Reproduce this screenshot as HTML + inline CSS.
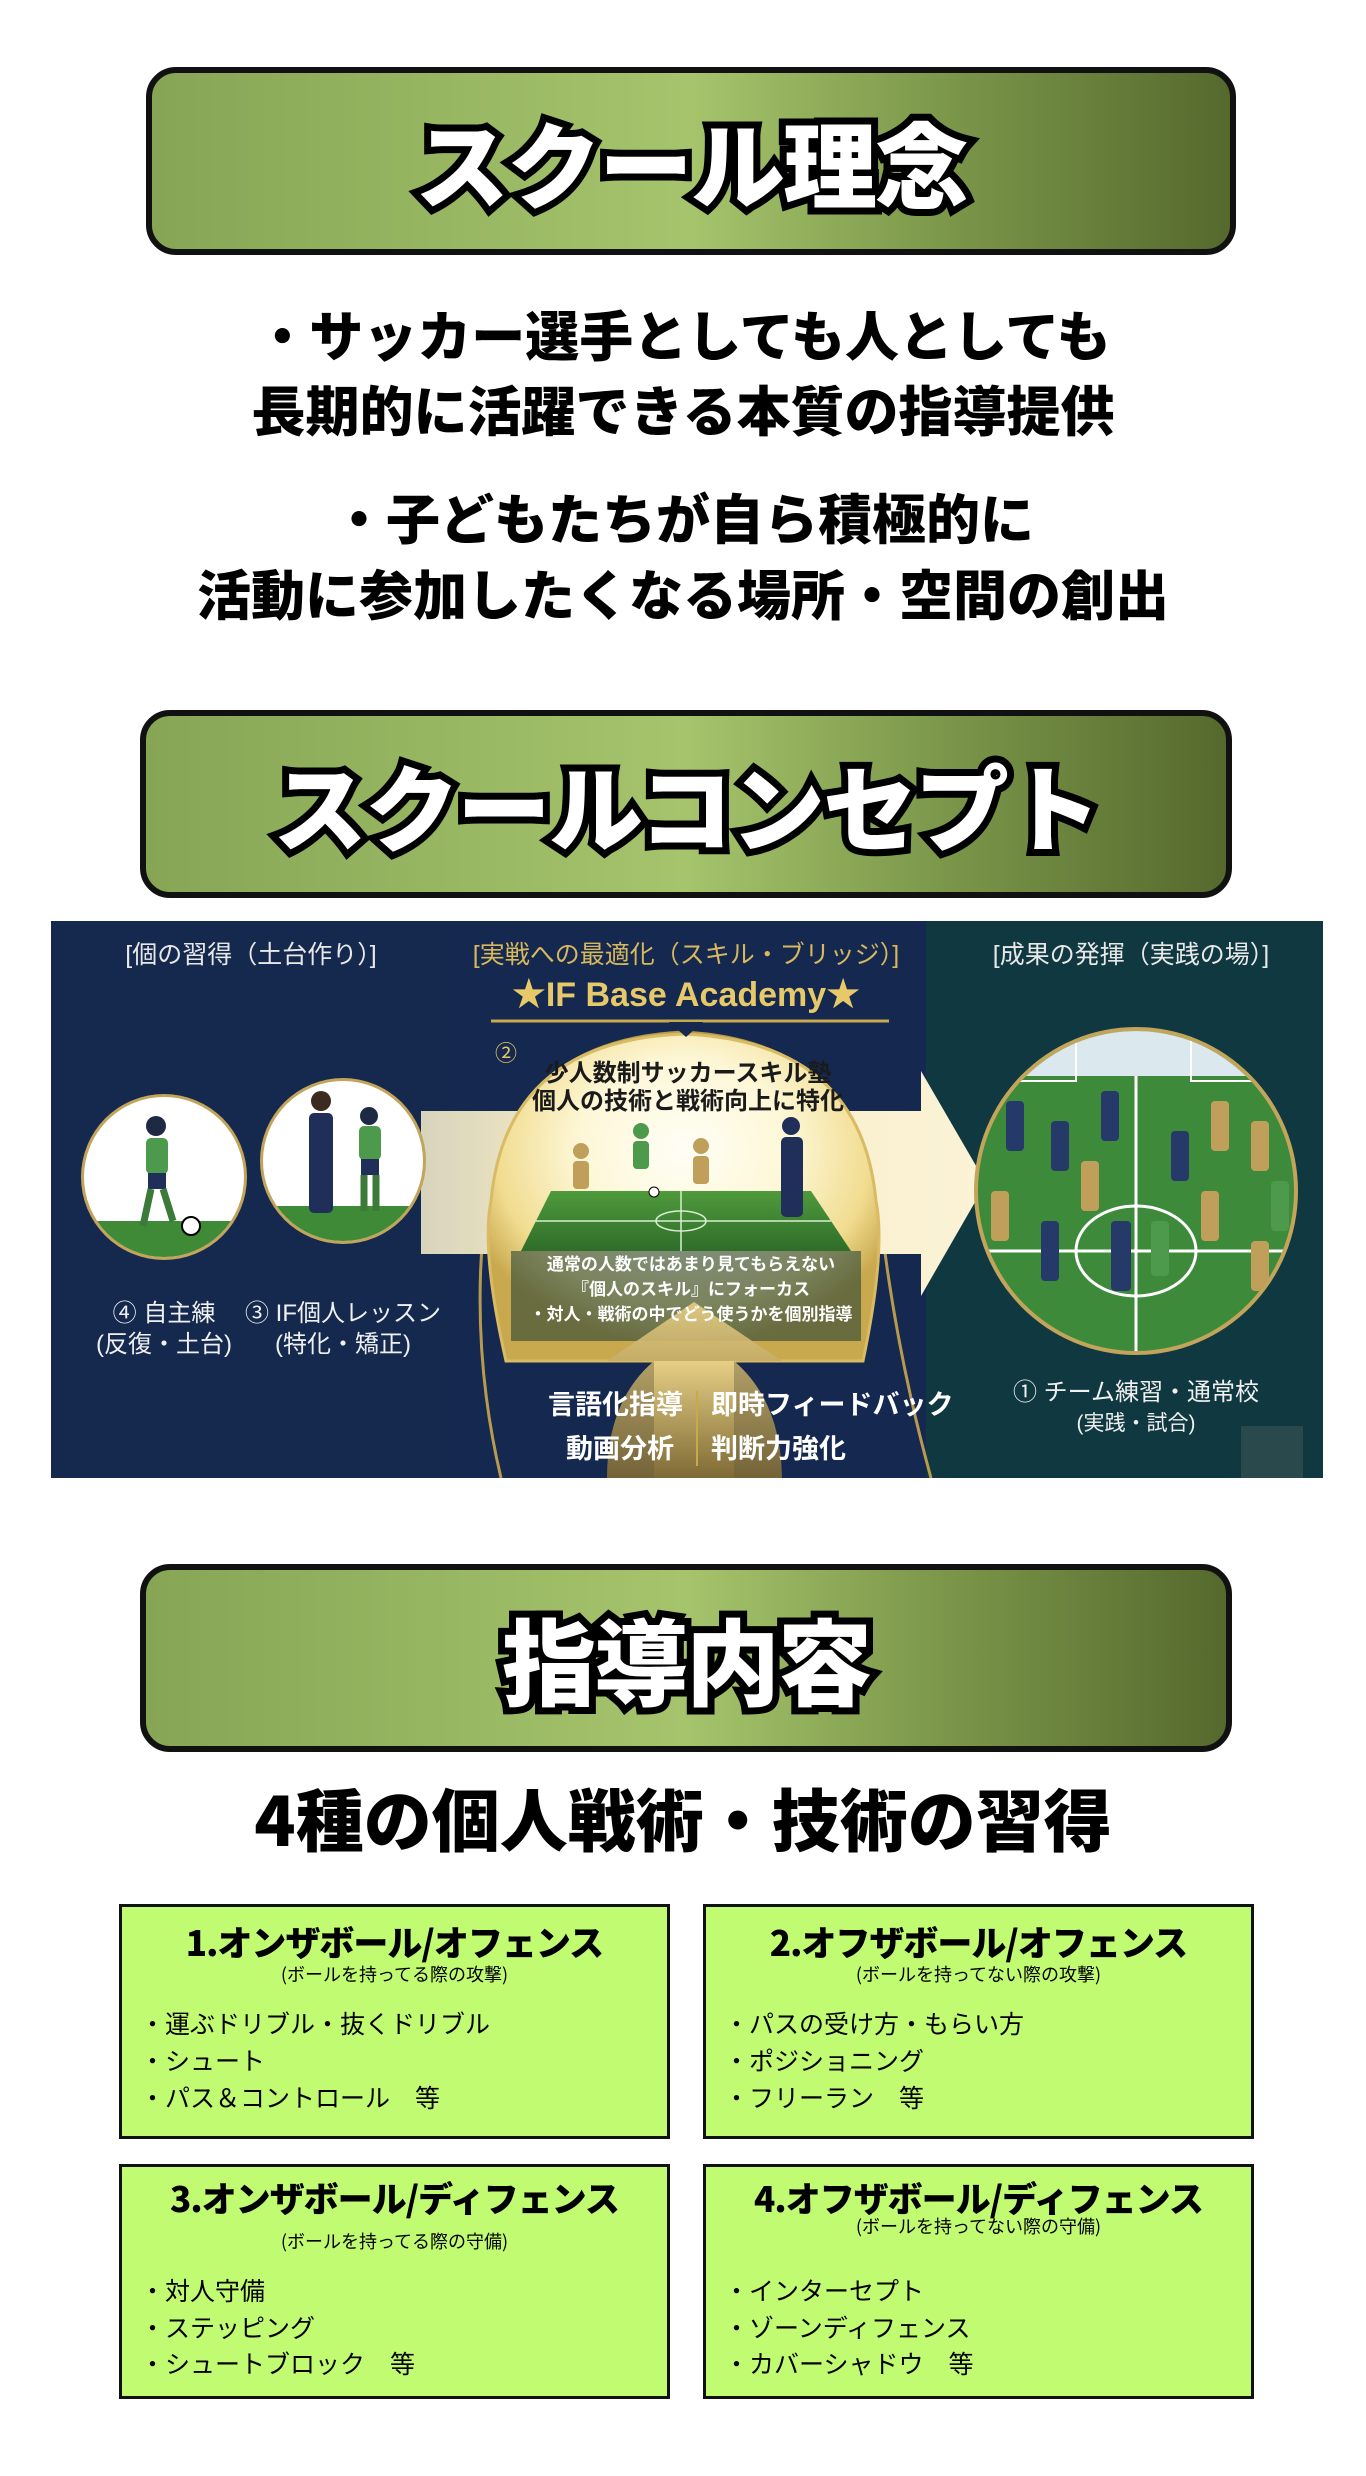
<!DOCTYPE html>
<html><head><meta charset="utf-8">
<style>
*{margin:0;padding:0;box-sizing:border-box}
body{width:1366px;height:2476px;background:#fff;position:relative;overflow:hidden;font-family:"Liberation Sans","Noto Sans CJK JP",sans-serif}
.hdr{position:absolute;left:146px;width:1090px;height:188px;border:6px solid #111;border-radius:30px;background:linear-gradient(90deg,#86a656 0%,#a6c46c 50%,#7e9a4c 72%,#55692d 100%);display:flex;align-items:center;justify-content:center}
.hdr span{font-family:"Noto Sans CJK JP",sans-serif;font-weight:900;font-size:94px;color:#fff;-webkit-text-stroke:14px #000;paint-order:stroke fill;letter-spacing:-2px;text-shadow:4px 5px 0 #000;line-height:1}
.line{position:absolute;left:0;width:1366px;text-align:center;font-family:"Noto Sans CJK JP",sans-serif;font-weight:900;font-size:54px;color:#000;line-height:1;white-space:nowrap}
.box{position:absolute;width:551px;height:235px;border:3px solid #111;background:#c1fb72}
.box .t{position:absolute;left:0;width:100%;text-align:center;font-family:"Noto Sans CJK JP",sans-serif;font-weight:900;font-size:35px;line-height:1;white-space:nowrap;letter-spacing:-1px}
.box .s{position:absolute;left:0;width:100%;text-align:center;font-family:"Noto Sans CJK JP",sans-serif;font-size:18px;line-height:1}
.box .i{position:absolute;left:18px;font-family:"Noto Sans CJK JP",sans-serif;font-size:25px;line-height:1;white-space:nowrap}
</style></head><body>

<div class="hdr" style="top:67px"><span>スクール理念</span></div>
<div class="line" style="top:306px">・サッカー選手としても人としても</div>
<div class="line" style="top:381px">長期的に活躍できる本質の指導提供</div>
<div class="line" style="top:489px">・子どもたちが自ら積極的に</div>
<div class="line" style="top:565px">活動に参加したくなる場所・空間の創出</div>

<div class="hdr" style="top:710px;left:140px;width:1092px"><span>スクールコンセプト</span></div>

<svg style="position:absolute;left:51px;top:921px" width="1272" height="557" viewBox="0 0 1272 557" font-family="Liberation Sans, Noto Sans CJK JP, sans-serif">
<defs>
<radialGradient id="glow" cx="0.5" cy="0.35" r="0.6">
<stop offset="0" stop-color="#fffef6"/><stop offset="0.45" stop-color="#fdf7d6"/><stop offset="0.8" stop-color="#f1dc90"/><stop offset="1" stop-color="#c9a94e"/>
</radialGradient>
<linearGradient id="arr" x1="0" x2="1"><stop offset="0" stop-color="#d8d4bc"/><stop offset="0.3" stop-color="#f7ecc4"/><stop offset="1" stop-color="#fbf3d6"/></linearGradient>
<linearGradient id="up" x1="0" y1="0" x2="0" y2="1"><stop offset="0" stop-color="#e7cf85"/><stop offset="1" stop-color="#7e6a35"/></linearGradient>
<linearGradient id="grass" x1="0" y1="0" x2="0" y2="1"><stop offset="0" stop-color="#4f9a3c"/><stop offset="1" stop-color="#2f6d2a"/></linearGradient>
<clipPath id="c1"><circle cx="113" cy="256" r="80"/></clipPath>
<clipPath id="c2"><circle cx="292" cy="240" r="80"/></clipPath>
<clipPath id="c3"><ellipse cx="1085" cy="270" rx="158" ry="160"/></clipPath>
</defs>
<rect width="1272" height="557" fill="#142850"/>
<rect x="0" width="400" height="557" fill="#15294f"/>
<rect x="875" width="397" height="557" fill="#0f3840"/>
<rect x="1190" y="505" width="62" height="52" fill="#29494d"/>
<path d="M450 557 Q420 430 433 300 Q450 120 632 111 Q814 120 830 300 Q845 430 880 557" fill="none" stroke="#b89a4f" stroke-width="3"/>
<path d="M370 190 L870 190 L870 150 L935 262 L870 375 L870 333 L370 333 Z" fill="url(#arr)"/>
<path d="M455 440 Q430 330 440 280 Q455 120 632 113 Q810 120 825 280 Q835 330 812 440 Z" fill="url(#glow)" stroke="#d8bb63" stroke-width="3"/>
<path d="M440 100 L838 100" stroke="#c9a94e" stroke-width="3"/>
<path d="M618 101 L635 116 L652 101 Z" fill="#142850"/>
<path d="M470 330 L500 270 L760 270 L800 330 Z" fill="url(#grass)"/>
<path d="M485 300 L780 300 M630 270 L630 330" stroke="#d8eed0" stroke-width="1.5" fill="none"/>
<ellipse cx="630" cy="300" rx="25" ry="10" fill="none" stroke="#d8eed0" stroke-width="1.5"/>
<rect x="460" y="330" width="350" height="90" fill="#1a3a33" opacity="0.55"/>
<g fill="#bf9f5a"><circle cx="530" cy="230" r="8"/><rect x="522" y="240" width="16" height="28" rx="4"/><circle cx="650" cy="225" r="8"/><rect x="642" y="235" width="16" height="28" rx="4"/></g>
<g fill="#4e9a4c"><circle cx="590" cy="210" r="8"/><rect x="582" y="220" width="16" height="28" rx="4"/></g>
<g fill="#1f2f5a"><circle cx="740" cy="205" r="9"/><rect x="730" y="216" width="22" height="80" rx="5"/></g>
<circle cx="603" cy="271" r="5" fill="#fff" stroke="#000"/>
<path d="M556 557 Q556 480 603 440 L556 440 L643 381 L731 440 L683 440 Q730 480 731 557 Z" fill="url(#up)" opacity="0.9"/>
<rect x="603" y="440" width="80" height="117" fill="url(#up)"/>
<circle cx="113" cy="256" r="83" fill="#c2a55a"/>
<g clip-path="url(#c1)"><rect x="30" y="170" width="170" height="170" fill="#fff"/><rect x="30" y="300" width="170" height="40" fill="#3e8a36"/>
<circle cx="105" cy="205" r="10" fill="#1e2a44"/><rect x="95" y="217" width="22" height="36" rx="5" fill="#4e9a4c"/><rect x="97" y="252" width="18" height="16" fill="#1f2f5a"/><path d="M100 268 L92 305 M112 268 L122 300" stroke="#3c7a3a" stroke-width="7"/><circle cx="140" cy="305" r="9" fill="#fff" stroke="#000" stroke-width="2"/></g>
<circle cx="292" cy="240" r="83" fill="#c2a55a"/>
<g clip-path="url(#c2)"><rect x="205" y="155" width="175" height="170" fill="#fff"/><rect x="205" y="285" width="175" height="40" fill="#3e8a36"/>
<circle cx="270" cy="180" r="10" fill="#3b2b20"/><rect x="258" y="192" width="24" height="100" rx="5" fill="#1f2f5a"/>
<circle cx="318" cy="195" r="9" fill="#1e2a44"/><rect x="308" y="205" width="22" height="34" rx="5" fill="#4e9a4c"/><rect x="310" y="238" width="18" height="16" fill="#1f2f5a"/><path d="M313 254 L313 290 M325 254 L325 290" stroke="#3c7a3a" stroke-width="7"/></g>
<ellipse cx="1085" cy="270" rx="162" ry="164" fill="#c2a55a"/>
<g clip-path="url(#c3)"><rect x="920" y="100" width="330" height="340" fill="#3d8a3a"/><rect x="920" y="100" width="330" height="55" fill="#dbe8ee"/>
<rect x="955" y="110" width="70" height="50" fill="none" stroke="#fff" stroke-width="2"/><rect x="1140" y="110" width="70" height="50" fill="none" stroke="#fff" stroke-width="2"/>
<path d="M920 330 L1250 330 M1085 155 L1085 440" stroke="#fff" stroke-width="3"/><ellipse cx="1085" cy="330" rx="60" ry="45" fill="none" stroke="#fff" stroke-width="3"/>
<g fill="#263a6a"><rect x="955" y="180" width="18" height="50" rx="4"/><rect x="1000" y="200" width="18" height="50" rx="4"/><rect x="1050" y="170" width="18" height="50" rx="4"/><rect x="1120" y="210" width="18" height="50" rx="4"/><rect x="990" y="300" width="18" height="60" rx="4"/><rect x="1060" y="300" width="20" height="70" rx="4"/></g>
<g fill="#bf9f5a"><rect x="1160" y="180" width="18" height="50" rx="4"/><rect x="1200" y="200" width="18" height="50" rx="4"/><rect x="1030" y="240" width="18" height="50" rx="4"/><rect x="1150" y="270" width="18" height="50" rx="4"/><rect x="1200" y="320" width="18" height="50" rx="4"/><rect x="940" y="270" width="18" height="50" rx="4"/></g>
<g fill="#4e9a4c"><rect x="1100" y="300" width="18" height="55" rx="4"/><rect x="1220" y="260" width="18" height="50" rx="4"/></g></g>
<g font-size="25" fill="#e8e8e8" text-anchor="middle">
<text x="200" y="42">[個の習得（土台作り）]</text>
<text x="1080" y="42">[成果の発揮（実践の場）]</text>
</g>
<text x="635" y="42" font-size="25" fill="#d8b85c" text-anchor="middle">[実戦への最適化（スキル・ブリッジ）]</text>
<text x="635" y="85" font-size="34" font-weight="bold" fill="#e7c969" text-anchor="middle">★IF Base Academy★</text>
<text x="444" y="140" font-size="22" fill="#e7c969">②</text>
<g font-size="24" font-weight="bold" fill="#1a1a1a" text-anchor="middle">
<text x="637" y="160">少人数制サッカースキル塾</text>
<text x="637" y="188">個人の技術と戦術向上に特化</text>
</g>
<g font-size="17" font-weight="bold" fill="#fff" text-anchor="middle">
<text x="640" y="349">通常の人数ではあまり見てもらえない</text>
<text x="640" y="374">『個人のスキル』にフォーカス</text>
<text x="640" y="399">・対人・戦術の中でどう使うかを個別指導</text>
</g>
<g font-size="27" font-weight="bold" fill="#fff">
<text x="632" y="493" text-anchor="end">言語化指導</text>
<text x="660" y="493">即時フィードバック</text>
<text x="623" y="537" text-anchor="end">動画分析</text>
<text x="660" y="537">判断力強化</text>
</g>
<path d="M646 470 L646 545" stroke="#c9a94e" stroke-width="2"/>
<g font-size="24" fill="#f0f0f0" text-anchor="middle">
<text x="113" y="400">④ 自主練</text>
<text x="113" y="431">(反復・土台)</text>
<text x="292" y="400">③ IF個人レッスン</text>
<text x="292" y="431">(特化・矯正)</text>
<text x="1085" y="479">① チーム練習・通常校</text>
<text x="1085" y="509" font-size="21">(実践・試合)</text>
</g>
</svg>

<div class="hdr" style="top:1564px;left:140px;width:1092px"><span>指導内容</span></div>
<div class="line" style="top:1783px;font-size:68px">4種の個人戦術・技術の習得</div>

<div class="box" style="left:119px;top:1904px">
<div class="t" style="top:17px">1.オンザボール/オフェンス</div>
<div class="s" style="top:58px">(ボールを持ってる際の攻撃)</div>
<div class="i" style="top:104px">・運ぶドリブル・抜くドリブル</div>
<div class="i" style="top:141px">・シュート</div>
<div class="i" style="top:178px">・パス＆コントロール　等</div>
</div>
<div class="box" style="left:703px;top:1904px">
<div class="t" style="top:17px">2.オフザボール/オフェンス</div>
<div class="s" style="top:58px">(ボールを持ってない際の攻撃)</div>
<div class="i" style="top:104px">・パスの受け方・もらい方</div>
<div class="i" style="top:141px">・ポジショニング</div>
<div class="i" style="top:178px">・フリーラン　等</div>
</div>
<div class="box" style="left:119px;top:2164px">
<div class="t" style="top:13px">3.オンザボール/ディフェンス</div>
<div class="s" style="top:65px">(ボールを持ってる際の守備)</div>
<div class="i" style="top:111px">・対人守備</div>
<div class="i" style="top:148px">・ステッピング</div>
<div class="i" style="top:184px">・シュートブロック　等</div>
</div>
<div class="box" style="left:703px;top:2164px">
<div class="t" style="top:13px">4.オフザボール/ディフェンス</div>
<div class="s" style="top:50px">(ボールを持ってない際の守備)</div>
<div class="i" style="top:111px">・インターセプト</div>
<div class="i" style="top:148px">・ゾーンディフェンス</div>
<div class="i" style="top:184px">・カバーシャドウ　等</div>
</div>
</body></html>
